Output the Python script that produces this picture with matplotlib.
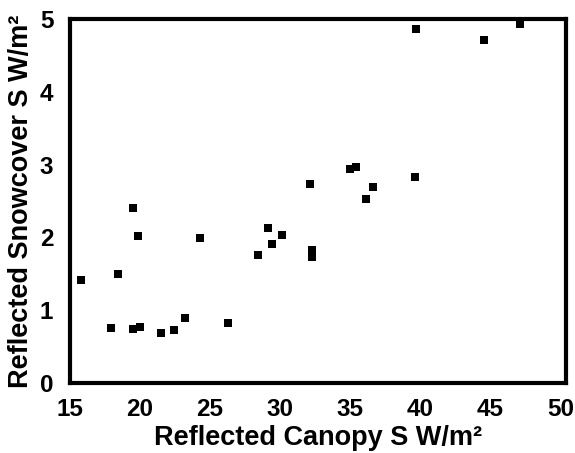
import matplotlib
matplotlib.use("Agg")
import matplotlib.pyplot as plt

# reflected shortwave: canopy (x) vs snowcover (y), W/m2
canopy = [15.8, 18.4, 17.9, 19.5, 19.85, 19.5, 20.0, 21.5, 22.4, 23.2,
          24.3, 26.3, 28.4, 29.1, 29.4, 30.1, 32.3, 32.3, 32.1, 35.0,
          35.4, 36.1, 36.6, 39.6, 39.7, 44.55, 47.1]
snowcover = [1.41, 1.50, 0.75, 2.40, 2.02, 0.74, 0.77, 0.69, 0.73, 0.89,
             1.99, 0.82, 1.76, 2.13, 1.91, 2.03, 1.83, 1.73, 2.73, 2.94,
             2.97, 2.53, 2.69, 2.83, 4.86, 4.71, 4.93]

xticks = [15, 20, 25, 30, 35, 40, 45, 50]
yticks = [0, 1, 2, 3, 4, 5]

plt.rcParams['font.family'] = ['Liberation Sans', 'DejaVu Sans']
plt.rcParams['font.weight'] = 'bold'

fig = plt.figure(figsize=(5.75, 4.53), dpi=100)
ax = fig.add_axes([0.1217, 0.1545, 0.8626, 0.8035])

ax.scatter(canopy, snowcover, marker='s', s=26, color='black', linewidths=0, zorder=3)

ax.set_xlim(15, 50.4)
ax.set_ylim(0, 5)
ax.set_xticks(xticks)
ax.set_yticks(yticks)
ax.tick_params(axis='x', length=0, labelsize=17.5, pad=11)
ax.tick_params(axis='y', length=0, labelsize=17.5, pad=12)
for lab in ax.get_xticklabels() + ax.get_yticklabels():
    lab.set_fontweight('bold')

for spine in ax.spines.values():
    spine.set_linewidth(3)

ax.set_xlabel("Reflected Canopy S W/m²", fontsize=19.5, fontweight='bold', labelpad=3)
ax.set_ylabel("Reflected Snowcover S W/m²", fontsize=19.5, fontweight='bold', labelpad=4)

fig.savefig("out.png", dpi=100)
